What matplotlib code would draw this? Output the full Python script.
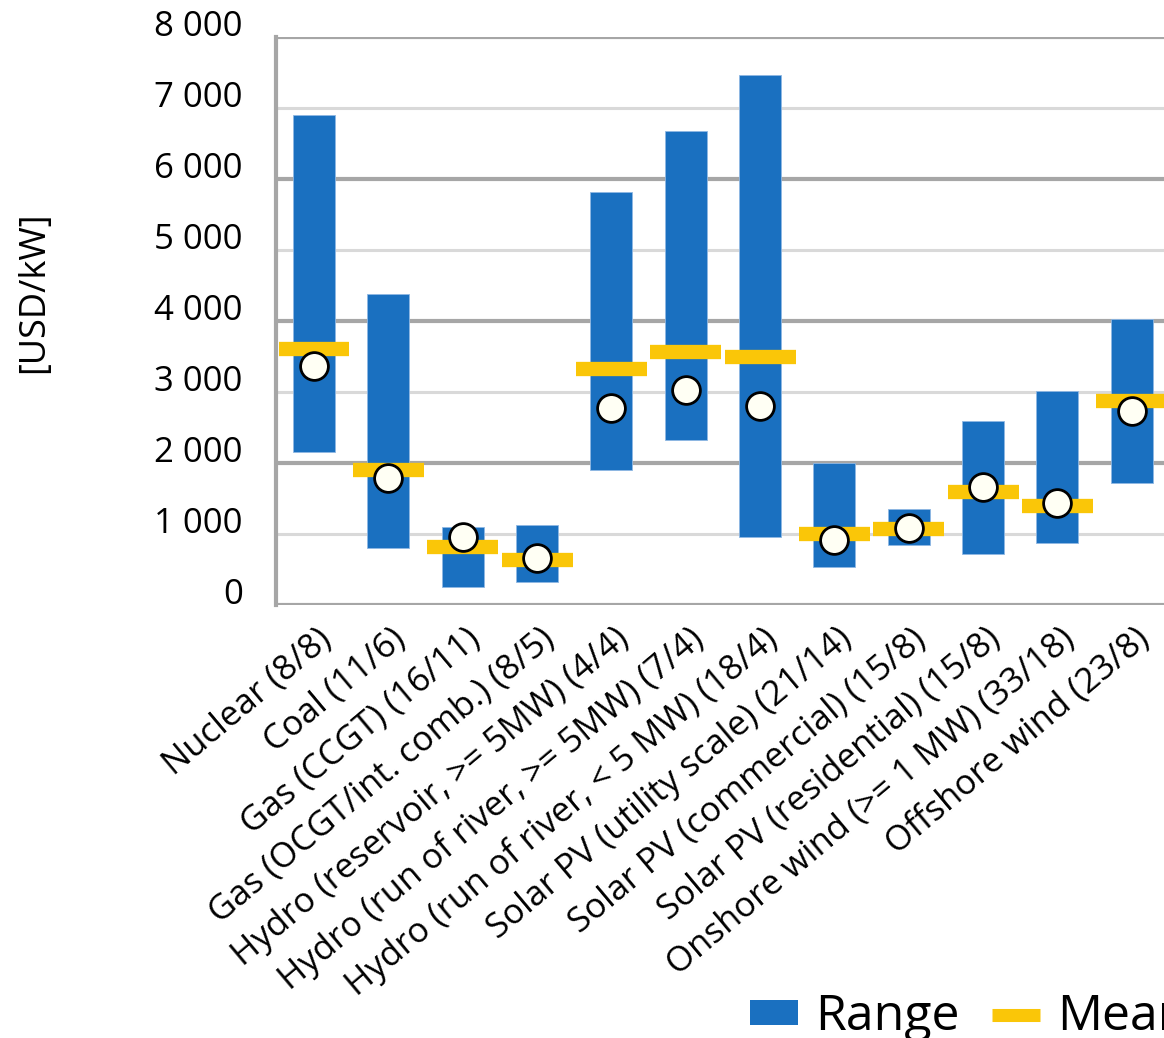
import matplotlib
matplotlib.use("Agg")
import matplotlib.pyplot as plt
from matplotlib.patches import Patch
from matplotlib.lines import Line2D
from matplotlib.transforms import ScaledTranslation

plt.rcParams['font.family'] = ['Open Sans', 'DejaVu Sans']

# Capital cost per technology (number of observations / sources in brackets)
categories = [
    "Nuclear (8/8)",
    "Coal (11/6)",
    "Gas (CCGT) (16/11)",
    "Gas (OCGT/int. comb.) (8/5)",
    "Hydro (reservoir, >= 5MW) (4/4)",
    "Hydro (run of river, >= 5MW) (7/4)",
    "Hydro (run of river, < 5 MW) (18/4)",
    "Solar PV (utility scale) (21/14)",
    "Solar PV (commercial) (15/8)",
    "Solar PV (residential) (15/8)",
    "Onshore wind (>= 1 MW) (33/18)",
    "Offshore wind (23/8)",
]
range_low = [2155, 800, 255, 320, 1895, 2325, 955, 535, 845, 720, 875, 1720]
range_high = [6905, 4375, 1100, 1130, 5810, 6670, 7470, 2000, 1350, 2585, 3020, 4035]
mean_cost = [3600, 1895, 810, 630, 3320, 3560, 3500, 995, 1065, 1590, 1390, 2870]
median_cost = [3365, 1785, 960, 665, 2780, 3025, 2800, 920, 1085, 1655, 1440, 2735]

y_ticks = [0, 1000, 2000, 3000, 4000, 5000, 6000, 7000, 8000]
y_tick_labels = ["0", "1 000", "2 000", "3 000", "4 000", "5 000", "6 000", "7 000", "8 000"]

BLUE = "#1A70C0"
YELLOW = "#FAC608"
IVORY = "#FFFFF4"
DARK_GRID = "#A6A6A6"
LIGHT_GRID = "#D9D9D9"

W, H = 1164, 1038
fig = plt.figure(figsize=(W / 100, H / 100), dpi=100)
ax = fig.add_axes([276 / W, 1 - 605 / H, (1169 - 276) / W, (605 - 37) / H])

x = list(range(len(categories)))

# grid: even thousands dark, odd thousands light
for v in y_ticks:
    major = (v % 2000 == 0)
    ax.axhline(v, color=DARK_GRID if major else LIGHT_GRID,
               lw=3.0 if major else 2.2, zorder=0.5, solid_capstyle="butt")

heights = [h - l for h, l in zip(range_high, range_low)]
ax.bar(x, heights, bottom=range_low, width=0.565, color=BLUE,
       edgecolor="#8FB8E3", linewidth=0.6, zorder=2)

ax.hlines(mean_cost, [i - 0.477 for i in x], [i + 0.477 for i in x],
          colors=YELLOW, linewidth=10.3, zorder=3, capstyle="butt")

ax.plot(x, median_cost, linestyle="none", marker="o", markersize=20,
        markerfacecolor=IVORY, markeredgecolor="black", markeredgewidth=2.0,
        zorder=4)

ax.set_xlim(-0.511, 11.5)
ax.set_ylim(0, 8000)

for side in ["top", "right", "bottom"]:
    ax.spines[side].set_visible(False)
ax.spines["left"].set_color(DARK_GRID)
ax.spines["left"].set_linewidth(3.0)
ax.spines["left"].set_zorder(1)

ax.set_yticks(y_ticks)
ax.set_yticklabels(y_tick_labels, fontsize=25)
ax.tick_params(axis="y", length=0, pad=24)
up = ScaledTranslation(0, 0.14, fig.dpi_scale_trans)
for lab in ax.get_yticklabels():
    lab.set_transform(lab.get_transform() + up)

ax.set_xticks(x)
ax.set_xticklabels(categories, fontsize=25, rotation=40, ha="right",
                   va="top", rotation_mode="anchor")
ax.tick_params(axis="x", length=0, pad=12)
shift = ScaledTranslation(0.02, 0, fig.dpi_scale_trans)
for lab in ax.get_xticklabels():
    lab.set_transform(lab.get_transform() + shift)

fig.text(34 / W, 1 - 292 / H, "[USD/kW]", rotation=90, fontsize=26,
         ha="center", va="center")

handles = [
    Patch(facecolor=BLUE, edgecolor="none"),
    Line2D([0], [0], color=YELLOW, lw=9.4, solid_capstyle="butt"),
    Line2D([0], [0], linestyle="none", marker="o", markersize=20,
           markerfacecolor=IVORY, markeredgecolor="black", markeredgewidth=2.0),
]
fig.legend(handles, ["Range", "Mean", "Median"], loc="lower left",
           bbox_to_anchor=(750 / W, -0.004), ncol=3, frameon=False,
           fontsize=36, handlelength=0.95, handleheight=0.38,
           handletextpad=0.36, columnspacing=0.64, borderpad=0,
           borderaxespad=0)

fig.savefig("out.png", dpi=100)
